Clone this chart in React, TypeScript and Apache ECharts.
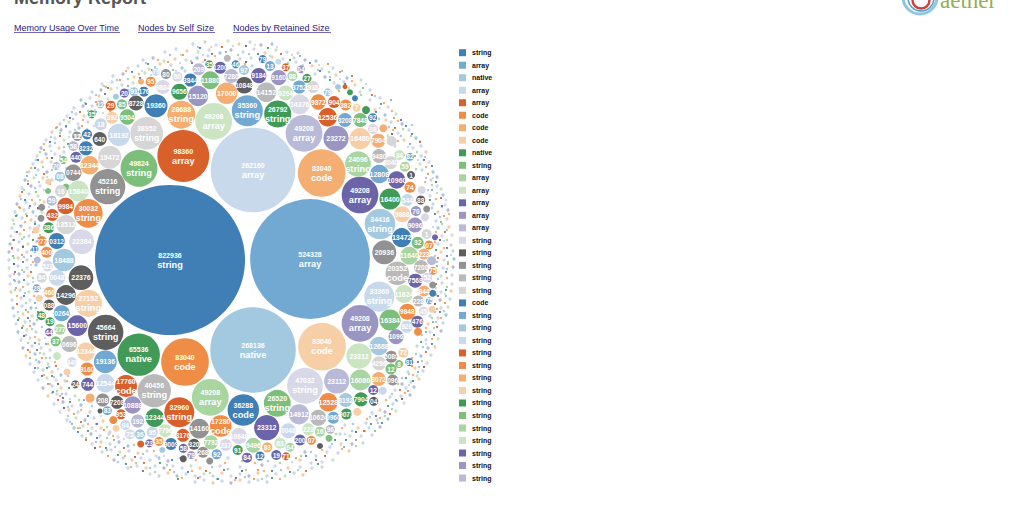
import React, { useEffect, useRef } from "react";
import * as echarts from "echarts";

const palette = ["#3f7fb6","#72a9d2","#a3c9e0","#c8d9ec","#d9602b","#ef8c45","#f4ae72","#f7cfa6","#429a59","#7cbf7b","#a8d5a0","#cbe5c3","#6c64a9","#9a95c3","#b9b9d8","#d9d8e9","#5e5e5e","#929292","#b9b9b9","#d6d6d6"];

const titleText = "Memory Report";
const linkLabels = ["Memory Usage Over Time", "Nodes by Self Size", "Nodes by Retained Size"];
const legendNames = ["string","array","native","array","array","code","code","code","native","string","array","array","array","array","array","string","string","string","string","string","code","string","string","string","string","string","string","string","string","string","string","string","string","string","string"];

// x, y, retained size, type (empty when the bubble shows no type). Rank order gives the colour.
const rankedBubbles: [number, number, number, string][] = [
[170,260,822936,"string"],[310,259,524328,"array"],[253,350,268136,"native"],[253,170,262160,"array"],[183.3,156,98360,"array"],
[185,362,83040,"code"],[321.7,173,83040,"code"],[322,346.7,83040,"code"],[138.7,354.7,65536,"native"],[139,168.3,49824,"string"],
[210.3,397.3,49208,"array"],[213.7,121.3,49208,"array"],[360,195,49208,"array"],[360,323.3,49208,"array"],[304,133.3,49208,"array"],
[305,385.7,47032,"string"],[105.7,332.3,45664,"string"],[107.7,186.7,45216,"string"],[154.3,390.7,40456,"string"],[146.7,133.3,38952,"string"],
[243.3,410,36288,"code"],[247.3,110.7,35360,"string"],[380,224,34416,"string"],[379.3,296.7,33360,"string"],[179.3,412.3,32960,"string"],
[88.3,213.3,30032,"string"],[181.3,114.7,28688,"string"],[88.3,303.3,27152,"string"],[277.7,114,26792,"string"],[277.3,403.3,26520,"string"],
[358,164,24096,"string"],[359,356,23312,""],[266.7,427.7,23312,""],[336,138.3,23272,""],[336.7,381,23112,""],
[81.7,241.7,22384,""],[81,277.7,22376,""],[384.3,252.3,20936,""],[397.3,273.3,20352,"code"],[109.7,157.3,19472,""],
[156,105.7,19360,""],[105.3,361.7,19136,""],[64,260,18488,""],[119,135,18192,""],[126,386,17760,"code"],
[220.7,426,17280,"code"],[226.7,93.3,17000,""],[360,138.7,16480,""],[390,199,16400,""],[390,320,16384,""],
[360.3,380,16080,""],[78.3,191,15840,""],[77.3,325.7,15600,""],[198,96,15120,""],[299,414.3,14912,""],
[299.7,104.3,14376,""],[66,295,14296,""],[199.3,428.7,14160,""],[266.3,92.3,14152,""],[66,224.7,13512,""],
[401.7,237.7,13472,""],[379.3,174,12808,""],[379,346,12688,""],[105.3,383.3,12544,""],[327.7,117.3,12536,""],
[328.3,402.3,12528,""],[89.7,165.3,12344,""],[86,351.7,12344,""],[154.7,417.7,12344,""],[210.3,80.3,11880,""],
[409.3,255.7,11640,""],[404,294,11624,""],[396.7,180,10960,""],[132.7,405,10888,""],
];

// x, y, retained size, colour index, the part of the number that fits the bubble.
const smallBubbles: [number, number, number, number, string][] = [
[73.3,172.7,9800,17,"0744"],[65.7,206,9984,4,"9984"],[56.7,241,9400,0,"0312"],[57,277.7,9400,3,"0048"],[61.7,313.3,9400,1,"0264"],[69.3,344,9400,18,"0696"],
[179.3,91.7,9400,8,"9656"],[136,103,8225,16,"8728"],[127.3,117,8600,9,"9504"],[244.3,85.3,10100,16,"10848"],[258.7,75.7,8600,12,"9184"],[278.7,77.7,8600,13,"9160"],
[318.3,102,8600,5,"9872"],[334,102,5300,4,"904"],[345,120,7200,1,"3208"],[360.3,120,7200,9,"7848"],[378.3,140.7,7200,6,"7904"],[379,156,7200,18,"9480"],[390.7,162.7,6200,19,"8040"],
[407.3,311.7,9400,5,"9848"],[415,225,8200,13,"9096"],[402.3,214.3,9400,7,"9888"],[421,267,7200,18,"7200"],[415.3,280.7,7200,12,"7568"],
[163,87,7200,15,"9884"],[150.7,81.7,3650,5,"95"],[144,91.7,3650,0,"176"],[134,91.7,2960,2,"91"],[124.3,93,2960,12,"20"],[110.7,105.7,3650,4,"29"],[122,104.3,3650,9,"85"],[112,117.7,5300,7,"392"],
[100.3,104.3,2340,18,"12"],[91.7,114.3,2340,8,"35"],[100.7,124.3,5300,3,"18"],[87,134.3,3650,0,"42"],[99.7,139,7200,16,"640"],[77.7,136.7,2340,17,"12"],[166,74,3650,17,"80"],[156,71.7,2340,3,"79"],
[177.3,76.7,3650,15,"60"],[190.3,80,6200,0,"3844"],[198.7,69.3,5300,14,"209"],[209.3,64.3,2340,8,"35"],[220.3,67.7,5300,12,"1200"],[227.3,58.3,1790,18,""],[231.3,76,7200,14,"7280"],[235.7,64.3,2340,0,"46"],
[141,81.7,1320,6,""],[116,96.7,1320,2,""],[244,70,3650,2,"97"],[262.7,59,2340,0,"79"],[270,66,3650,1,"13"],[285.7,67.3,2340,4,"37"],[278.3,61.7,1320,3,""],[292.3,76,3650,10,"88"],[301,69.3,2340,13,"04"],[307,78.3,2960,8,"27"],
[299.3,87,6200,1,"3752"],[313,87,5300,19,"938"],[285.7,93,8200,11,"9264"],[327.7,92.3,2340,2,"79"],[345.7,105,4420,5,"382"],[356.7,107.7,2340,7,"7"],[372.7,117.7,2960,0,"92"],[373,129,3650,15,"08"],[383.3,128.3,2340,6,""],[391.7,141,3650,19,""],
[338,87,1320,2,""],[350,92.3,1320,8,""],[355,98.3,1320,0,""],[366,110,2340,8,""],[345,86.7,900,4,""],
[399.3,155,3650,11,"34"],[410,156.7,2340,1,"82"],[405,166.7,3650,10,"59"],[411,175,2340,16,"1"],[410,187.3,4420,5,"74"],[421.7,190,2340,15,""],[407.3,200,5300,3,"544"],[420.7,200,2960,16,"88"],[416,211,3650,13,"70"],[426.7,209,1790,17,""],[425,217.3,2340,15,""],
[426.7,234,3650,19,"1"],[435,237.3,1320,12,""],[417.7,242.7,5300,9,"32"],[429,245,2960,5,"07"],[424,254,4420,6,"223"],[431.7,260.7,2960,14,""],[433,270.7,2340,5,"75"],[427.3,277.7,3650,15,"52"],[432.7,285,1790,17,""],[424,291,4420,6,"844"],[432.7,293.3,1790,0,""],[429.3,300.7,1790,1,"75"],[418.3,301,4420,18,"228"],[423.3,311,2960,15,"45"],[432,309.3,1790,7,""],
[417.3,321.7,5300,12,"476"],[406.7,326.7,5300,3,"926"],[418,331.7,2340,5,""],[396,336.7,8200,13,"1096"],
[391.3,356.7,5300,17,"5080"],[403.3,352.7,3650,7,"72"],[399,364,2340,9,"8"],[409.3,362,2340,0,"81"],[379,363.3,7200,19,"4296"],[391,369,4420,9,"12"],[378.7,379,7200,6,"8072"],[392.7,380,4420,17,"096"],[373.3,390,3650,12,"12"],[382.7,390.7,2340,3,""],
[361,399.3,7200,8,"7904"],[373.7,401.3,2960,16,"04"],[345.7,400,7200,2,"8192"],[318.3,417.7,9400,18,"10624"],[333.3,417.7,5300,1,"9960"],[346.3,414,4420,8,"9073"],[357.3,411.7,2340,7,""],[308.3,429.3,5300,11,"223"],[320,431.7,3650,10,"16"],[330.3,429.3,2960,18,"96"],[288.3,430.7,8200,3,"0048"],[300,440,4420,12,"200"],[311.3,440.3,2960,5,"07"],[329,438.3,1790,9,""],
[239,436,9400,15,"10648"],[253.3,445.3,8200,10,"9496"],[267.3,447.3,3650,6,"83"],[280,443.3,4420,11,"83"],[290,447.3,2960,10,"64"],[276.3,455,3650,12,"19"],[286,456.3,2340,4,"71"],[260,456,2960,0,"12"],[247,457.7,3650,12,"84"],[237.7,450,3650,8,"91"],[320,446,1320,16,""],
[87.7,384.3,6200,12,"744"],[75.3,384.3,2340,16,"24"],[90,398,2960,6,""],[102.7,400,6200,17,"208"],[117,402.3,6200,16,"7208"],[107.3,410.7,2960,1,"83"],[100,411,900,16,""],[121,414.3,3650,4,"953"],[113.3,420,2340,5,""],[137.7,421,6200,14,"192"],[125.3,425,3650,3,"94"],[116,428.3,1790,7,""],[130,434.3,3650,15,"75"],[140,434.3,3650,2,"36"],[152.3,432.3,4420,3,"95"],[165.3,430.7,6200,11,"7796"],[183,435.3,6200,4,"3176"],[194,444.3,4420,16,"320"],[171,444,5300,0,"9009"],[159,441.3,2960,5,"35"],[149.3,443.3,2340,12,"23"],[140.7,444,1790,4,""],[183.3,448.3,2960,12,"58"],[191.3,455,2340,13,"79"],[183.3,458.7,1790,16,""],[203,452.3,4420,17,"268"],[211,442.3,7200,10,"7792"],[216.7,454.3,3650,1,"92"],[209.7,461,1790,17,""],[225.7,445,5300,15,"237"],[162.3,450,1320,2,""],
[51.7,200.7,3650,14,"59"],[52.3,215,5300,4,"432"],[41.7,207.3,1790,17,""],[41,218.3,1790,17,""],[48.7,227.7,4420,8,"386"],[36,230,1790,7,""],[41.7,241,3650,5,"277"],[46.7,252.3,4420,5,"400"],[35,249,1790,0,"11"],[47.7,266,4420,15,"522"],[37.3,260,1790,14,""],[41.7,277.7,3650,19,"84"],[36.7,288.3,2340,1,"28"],[49.3,292.3,4420,6,"460"],[39.3,298.3,1790,7,""],[49,305,4420,16,"088"],[41.3,315.7,2960,8,"48"],[50,321.7,2960,8,"19"],[49,332.3,2340,12,"44"],[60,329.3,4420,10,"277"],[55.7,341.3,3650,9,"37"],
[60,176.7,3650,2,"08"],[48.3,181.7,1320,7,""],[76,157.3,4420,12,"440"],[73.3,146,3650,14,"58"],[66,187,1790,9,""],[63.3,160,2340,9,"54"],[61,191,5300,19,"16"],[56.3,166,2340,14,"70"],[76.7,136,2960,17,"12"],[86,148.3,7200,0,"3232"],[48,191,1320,9,""],
[72,362,3650,15,"449"],[87,369,6200,5,"9160"],[57,356,2340,11,""],[67,372,1790,7,""],
];

const hazeValue = 380;
const hazeDots = [
193,44,3,205,42,19,216,45,15,228,41,11,239,44,7,250,42,3,261,45,14,272,44,2,165,52,15,176,49,3,187,51,7,198,52,11,209,50,19,220,53,2,231,50,14,243,52,3,254,49,15,265,53,7,276,50,11,287,52,3,298,53,19,
143,60,3,153,58,14,164,61,11,175,59,7,186,60,15,197,58,2,208,56,3,240,59,19,251,58,11,272,57,7,283,59,15,294,58,3,305,60,14,316,61,2,128,68,15,138,66,3,149,69,11,160,64,7,171,65,19,182,68,2,252,66,3,296,62,15,312,66,7,322,69,11,333,68,3,
113,76,3,123,74,14,134,77,7,145,73,11,185,71,3,315,74,3,325,77,14,336,75,7,347,78,2,102,84,15,112,82,3,122,85,19,133,83,11,334,83,15,344,82,3,355,85,7,361,80,11,92,92,3,101,90,14,111,89,7,360,92,15,370,90,3,81,100,2,90,98,15,99,96,7,108,99,11,370,100,19,380,98,3,
74,108,3,83,106,14,92,106,19,375,110,7,388,107,15,67,116,15,76,114,3,84,116,7,385,115,2,396,114,11,60,124,3,69,122,11,78,124,15,88,122,19,391,122,3,402,124,14,386,120,7,52,132,7,61,130,14,70,132,3,79,128,2,398,133,15,409,130,3,388,136,11,
46,140,3,55,138,15,64,140,11,404,140,7,416,138,2,395,146,19,41,148,14,50,146,3,59,148,7,413,148,15,421,146,3,37,156,11,46,154,2,55,154,15,64,152,3,400,152,14,421,156,3,426,152,7,33,164,3,42,162,7,51,162,19,420,164,11,429,162,15,
29,172,15,38,170,3,47,172,14,422,170,3,433,172,2,25,180,2,34,178,11,43,178,7,52,180,3,395,186,15,431,180,19,437,177,14,22,188,3,31,186,14,40,186,15,437,186,3,441,189,11,20,196,7,29,194,3,38,196,11,430,196,15,443,195,2,
17,204,14,26,202,3,35,204,19,44,202,7,433,204,3,445,205,15,15,212,3,24,210,15,33,212,2,42,212,11,438,212,7,448,210,14,13,220,11,22,218,3,31,220,7,436,221,3,447,219,19,12,228,3,21,226,14,30,228,15,39,226,3,438,228,2,449,227,7,11,236,15,20,234,7,29,236,3,442,236,15,452,235,11,
10,244,2,19,242,3,28,244,11,37,242,14,438,244,3,451,245,19,9,252,14,18,250,15,27,252,3,441,252,7,453,251,3,9,260,3,18,258,7,27,260,19,444,260,15,454,259,2,9,268,11,18,266,3,27,268,15,36,265,2,443,268,3,453,267,14,10,276,3,19,274,14,28,276,7,441,276,11,452,275,3,
10,284,15,19,282,2,28,284,3,442,283,19,452,284,15,11,292,7,20,290,3,29,292,11,441,292,3,451,291,7,12,300,3,21,298,19,30,300,15,440,300,14,450,299,3,13,308,14,22,306,3,31,308,2,441,308,15,448,307,11,14,316,3,23,314,7,32,316,11,430,316,3,446,315,2,438,318,19,
16,324,15,25,322,3,34,324,14,428,324,7,443,323,3,18,332,2,27,330,11,36,332,3,430,332,15,441,331,14,21,340,3,30,338,15,39,340,7,426,340,3,438,339,11,23,348,14,32,346,3,41,348,19,50,350,15,417,346,3,428,348,2,435,347,7,26,356,7,35,354,2,44,354,15,421,356,14,431,355,3,
30,364,3,39,362,14,48,364,11,415,368,7,427,363,15,34,372,15,43,370,3,52,372,7,61,375,2,408,372,3,423,371,19,417,376,11,38,380,3,47,378,11,56,380,15,65,381,3,402,384,14,411,382,3,419,379,7,43,388,14,52,386,3,61,388,7,395,390,15,406,388,3,414,387,2,
48,396,7,57,394,15,66,394,3,75,396,11,390,397,3,401,396,19,410,395,14,54,404,3,63,402,14,72,406,15,81,405,2,380,410,7,393,404,3,404,403,15,60,412,15,69,410,7,78,412,3,90,412,19,372,413,3,385,412,14,396,411,11,
67,420,3,76,418,11,85,420,14,94,418,3,103,421,7,366,423,3,377,420,15,388,419,2,74,428,2,83,426,3,92,428,15,101,428,7,110,432,3,345,425,15,358,428,7,369,428,3,380,427,14,82,436,3,91,434,14,100,436,3,109,434,19,118,437,15,340,434,3,350,436,11,361,436,15,372,435,3,
92,444,15,101,442,7,110,444,3,119,442,14,128,446,2,330,447,3,341,444,7,352,444,14,363,443,3,102,452,3,111,450,15,120,452,11,129,451,3,138,453,7,147,451,19,156,456,15,305,452,14,316,456,3,327,452,15,338,453,3,349,451,7,
114,460,14,123,458,3,132,460,7,141,458,15,150,460,3,159,458,2,168,461,14,228,458,3,300,460,7,311,463,3,322,462,15,333,460,11,128,468,3,137,466,15,146,468,7,155,466,3,164,468,14,173,466,15,182,468,3,191,466,11,200,468,7,220,466,15,240,467,3,262,465,14,275,466,3,288,468,7,300,467,15,312,468,3,322,467,19,
150,474,15,159,476,3,168,473,7,177,476,14,186,474,3,195,476,15,204,474,11,213,476,3,222,473,7,231,476,15,240,474,3,249,476,14,258,473,7,267,476,3,276,474,15,285,476,11,294,473,3,303,475,7,195,482,3,204,480,15,213,483,7,222,481,3,231,483,14,240,480,7,249,482,3,258,480,15,267,482,3,
];

// A second, finer layer of the same nodes, in between the first.
const fineValue = 220;
const fineDots = [
198,47,2,211,47,7,233,46,3,255,45,11,277,47,15,170,55,14,181,55,11,203,55,3,215,56,6,238,55,10,249,54,2,270,56,3,292,55,7,146,63,2,158,60,6,180,63,3,191,61,10,203,62,15,245,64,6,277,61,2,288,63,10,303,65,3,319,65,7,126,71,6,142,71,3,155,67,2,165,70,10,176,71,3,318,70,2,329,72,10,342,71,6,
117,80,2,128,79,10,139,74,6,151,75,3,330,77,2,340,79,3,352,81,6,106,87,6,117,88,3,128,90,2,339,91,6,349,88,11,366,84,3,96,95,2,104,86,10,85,103,10,95,110,3,110,111,6,361,95,10,375,96,2,384,103,6,72,112,2,88,111,10,103,113,3,380,108,3,392,111,6,
64,120,10,73,119,2,83,120,6,94,126,3,379,119,10,389,127,2,398,121,6,57,127,6,66,127,2,75,130,10,87,129,3,403,129,10,393,130,6,412,125,2,51,137,2,60,133,10,69,137,3,83,142,15,401,136,2,411,136,10,420,141,3,44,144,6,55,143,2,64,147,10,398,141,6,408,147,3,417,152,10,40,152,10,51,151,3,60,156,2,404,155,6,425,157,2,
36,160,2,47,158,6,66,168,3,418,160,3,426,167,6,31,168,6,43,167,10,52,170,2,416,169,10,426,178,2,27,172,10,36,175,2,47,177,3,56,179,10,433,178,3,28,181,6,39,182,2,50,184,6,432,185,10,425,182,6,24,190,10,35,188,2,44,190,3,437,193,3,428,190,10,
21,199,2,32,200,6,40,200,10,49,207,3,436,199,6,446,200,3,19,207,6,29,208,2,38,209,10,432,208,2,442,207,10,17,215,2,26,214,10,36,216,3,43,217,6,440,217,2,449,214,6,14,224,10,25,222,6,35,222,2,442,224,10,433,227,3,15,232,3,24,237,2,33,232,6,40,235,10,447,230,2,436,232,6,
13,240,6,22,239,10,33,246,3,444,241,3,435,242,6,447,240,10,12,249,2,23,246,6,31,250,10,444,248,6,451,255,3,435,256,10,14,258,10,24,257,2,33,262,6,448,262,10,437,262,2,14,264,2,22,270,10,31,265,3,447,269,2,436,272,6,14,274,6,24,272,2,33,278,10,447,278,6,438,279,2,
15,281,2,23,287,6,33,282,3,447,287,10,436,288,3,15,290,10,25,293,2,34,296,6,446,296,2,436,295,10,17,296,6,26,303,10,36,308,2,445,294,3,437,309,6,18,312,2,28,312,6,37,320,10,444,311,10,435,312,2,19,318,10,30,321,2,441,318,6,432,318,10,23,326,6,32,329,10,42,327,2,436,322,2,426,328,6,
26,335,2,35,337,6,45,338,3,434,328,10,422,335,2,28,343,10,39,344,2,48,344,6,432,339,6,423,347,10,30,352,6,40,353,10,50,358,2,426,344,3,416,354,2,36,360,2,46,358,10,55,362,6,422,361,10,412,358,6,38,368,10,49,367,2,58,369,3,419,367,2,409,374,10,44,375,6,54,377,10,68,376,2,413,375,6,402,378,2,
50,384,2,57,391,10,67,381,6,409,385,3,398,384,10,52,393,10,62,394,2,70,399,3,405,393,6,392,394,2,60,396,6,68,407,2,79,400,10,397,401,10,386,400,6,68,416,10,81,410,6,92,406,2,392,409,2,380,418,6,70,422,2,80,428,10,88,424,6,101,416,3,385,416,10,370,417,2,
78,428,6,96,424,2,107,427,10,378,423,2,367,419,6,86,438,10,96,431,3,113,436,6,365,431,10,353,424,2,96,442,2,107,438,10,124,439,3,352,431,2,342,428,6,100,447,6,115,447,2,134,445,10,356,446,10,345,434,3,107,450,10,125,456,6,143,454,2,342,449,6,332,444,2,336,434,10,
118,462,2,136,463,10,154,451,6,164,456,3,322,450,6,311,452,2,301,456,10,131,467,6,150,468,2,167,465,10,180,458,2,196,460,6,292,462,3,280,463,10,268,461,2,255,463,6,242,461,10,225,463,6,212,467,2,155,472,10,174,472,2,192,471,6,210,473,10,228,469,2,246,470,10,264,471,6,281,470,2,298,470,10,
182,478,6,200,477,2,217,479,10,235,480,6,245,477,2,262,479,10,280,479,6,
];

// Saturated specks scattered through the same ring: x, y, colour index.
const speckValue = 150;
const speckDots = [
200,48,0,222,47,4,246,46,16,268,48,8,183,55,5,212,54,12,226,52,9,258,54,0,281,54,4,300,56,1,148,64,8,168,62,5,192,63,12,205,60,4,246,62,16,290,60,8,310,63,0,328,64,5,132,72,0,152,70,4,173,70,9,320,71,12,340,72,1,120,80,5,140,78,12,330,80,8,352,76,4,108,88,8,128,86,1,142,88,16,345,84,0,363,88,9,
86,104,0,96,102,5,105,94,12,372,95,4,381,104,8,391,100,1,70,118,16,80,112,4,96,112,1,376,112,0,394,118,5,401,120,12,56,128,9,66,126,0,82,126,5,395,128,4,406,126,0,412,134,8,50,142,12,60,136,4,68,144,8,392,134,16,410,144,1,420,142,4,44,150,5,38,160,0,52,158,16,415,156,9,424,160,12,432,166,0,35,168,8,44,174,4,27,176,1,428,174,5,436,182,16,
28,184,12,36,192,9,22,192,4,25,200,0,432,190,1,441,198,4,430,200,8,20,208,5,30,206,12,38,208,16,442,206,12,435,214,0,16,216,8,27,216,4,35,224,0,444,216,5,441,222,9,17,232,12,24,230,5,33,240,8,445,232,4,440,240,16,14,240,0,23,247,16,12,248,4,447,248,0,436,250,8,13,256,9,22,255,5,31,256,1,447,256,12,438,258,4,
14,264,16,23,262,0,31,272,4,448,264,5,437,266,9,15,272,12,24,280,8,14,280,1,446,272,0,436,284,4,16,288,5,24,296,0,34,288,16,446,290,8,438,296,12,17,304,4,26,310,9,35,303,1,445,303,5,435,304,16,18,320,8,28,318,12,38,312,4,440,312,0,433,322,9,22,328,0,30,326,5,437,327,4,426,332,1,24,336,16,35,343,8,434,335,12,
28,350,4,37,350,12,46,344,1,421,342,8,432,344,0,30,358,9,42,358,5,426,352,4,418,362,12,35,368,0,47,368,8,56,366,4,424,367,16,412,366,5,42,376,12,52,376,0,418,372,1,406,378,8,48,384,5,58,384,16,69,388,8,413,381,0,400,390,4,53,392,0,63,398,12,408,391,5,396,400,1,58,400,4,70,402,8,84,400,1,402,399,16,388,406,8,
64,408,16,74,414,5,88,416,0,390,414,4,376,416,12,72,424,9,81,422,4,97,424,12,382,423,0,371,424,8,78,432,0,88,431,8,104,430,5,364,431,4,356,432,16,86,440,4,97,438,12,114,440,1,375,431,9,346,440,0,95,448,16,106,448,0,124,448,4,356,440,5,335,440,8,108,456,5,118,455,8,135,457,12,344,447,1,325,456,4,
126,464,0,144,463,4,160,463,8,172,460,0,296,458,5,306,456,0,316,460,12,143,471,12,170,470,5,188,472,0,206,471,4,224,470,8,242,471,16,258,470,5,272,471,0,290,472,12,306,471,4,318,464,8,178,479,8,198,478,4,218,479,0,236,478,12,254,479,5,272,478,8,
];

const sizeScale = 0.0827;
const symbolSize = (v: number[]) => 2 * sizeScale * Math.sqrt(v[2]);

function triples(flat: number[], value: number) {
  const out: any[] = [];
  for (let i = 0; i + 2 < flat.length; i += 3) {
    out.push({ value: [flat[i], flat[i + 1], value], itemStyle: { color: palette[flat[i + 2]], opacity: 1 } });
  }
  return out;
}

export default function App() {
  const ref = useRef<HTMLDivElement>(null);
  useEffect(() => {
    const chart = echarts.init(ref.current!, undefined, { renderer: "svg", width: 1024, height: 512 });
    const font = "Liberation Sans, Arial, sans-serif";
    const rich = {
      v: { fontFamily: font, fontWeight: "bold", fontSize: 7, color: "#fff", lineHeight: 9 },
      n: { fontFamily: font, fontWeight: "bold", fontSize: 9.2, color: "#fff", lineHeight: 10 },
    };
    const linkX = [14, 138, 233];
    const linkW = [106, 77, 98];
    const graphic: any[] = [
      { type: "text", x: 14, y: -11, style: { text: titleText, fill: "#555", font: `bold 18px ${font}` } },
      ...linkLabels.map((t, i) => ({ type: "text", x: linkX[i], y: 23, style: { text: t, fill: "#2a1a80", font: `9px ${font}` } })),
      ...linkLabels.map((_, i) => ({ type: "rect", shape: { x: linkX[i], y: 32, width: linkW[i], height: 0.8 }, style: { fill: "#4a3aa0" } })),
      { type: "arc", shape: { cx: 920, cy: -3, r: 17, startAngle: 0, endAngle: Math.PI }, style: { stroke: "#8fc6e0", lineWidth: 3, fill: "none" } },
      { type: "arc", shape: { cx: 921, cy: -2, r: 13, startAngle: 0, endAngle: Math.PI }, style: { stroke: "#4a9cc8", lineWidth: 1.5, fill: "none" } },
      { type: "arc", shape: { cx: 921, cy: 0, r: 8.5, startAngle: 0, endAngle: Math.PI }, style: { stroke: "#d5403a", lineWidth: 2.5, fill: "none" } },
      { type: "text", x: 940, y: -11, style: { text: "aether", fill: "#8fb050", font: "23px Liberation Serif, serif" } },
    ];
    const solid = { opacity: 1 };
    const option: any = {
      animation: false,
      backgroundColor: "#fff",
      grid: { left: 0, right: 0, top: 0, bottom: 0 },
      xAxis: { type: "value", min: 0, max: 1024, show: false },
      yAxis: { type: "value", min: 0, max: 512, inverse: true, show: false },
      graphic,
      series: [
        { name: "haze", type: "scatter", silent: true, symbolSize, data: triples(hazeDots, hazeValue), z: 1 },
        { name: "fine", type: "scatter", silent: true, symbolSize, data: triples(fineDots, fineValue), z: 1 },
        { name: "specks", type: "scatter", silent: true, symbolSize, data: triples(speckDots, speckValue), z: 2 },
        {
          name: "small nodes", type: "scatter", silent: true, symbolSize, z: 3,
          data: smallBubbles.map(([x, y, v, c, t]) => ({
            value: [x, y, v], itemStyle: { color: palette[c], ...solid },
            label: { show: !!t, position: "inside", formatter: t, fontFamily: font, fontWeight: "bold", fontSize: 6.6, color: "#fff" },
          })),
        },
        {
          name: "nodes", type: "scatter", silent: true, symbolSize, z: 4,
          data: rankedBubbles.map(([x, y, v, t], i) => ({
            value: [x, y, v], itemStyle: { color: palette[i % 20], ...solid },
            label: { show: true, position: "inside", formatter: t ? `{v|${v}}\n{n|${t}}` : `{v|${v}}`, rich },
          })),
        },
        {
          name: "legend", type: "scatter", silent: true, symbol: "rect", symbolSize: 7, z: 5,
          data: legendNames.map((n, i) => ({
            value: [462.5, 52.7 + i * 12.51], itemStyle: { color: palette[i % 20], ...solid },
            label: { show: true, position: "right", distance: 6, formatter: n, fontFamily: font, fontWeight: "bold", fontSize: 7, color: "#111" },
          })),
        },
      ],
    };
    chart.setOption(option);
    return () => chart.dispose();
  }, []);
  return <div ref={ref} style={{ position: "absolute", left: 0, top: 0, width: 1024, height: 512 }} />;
}
